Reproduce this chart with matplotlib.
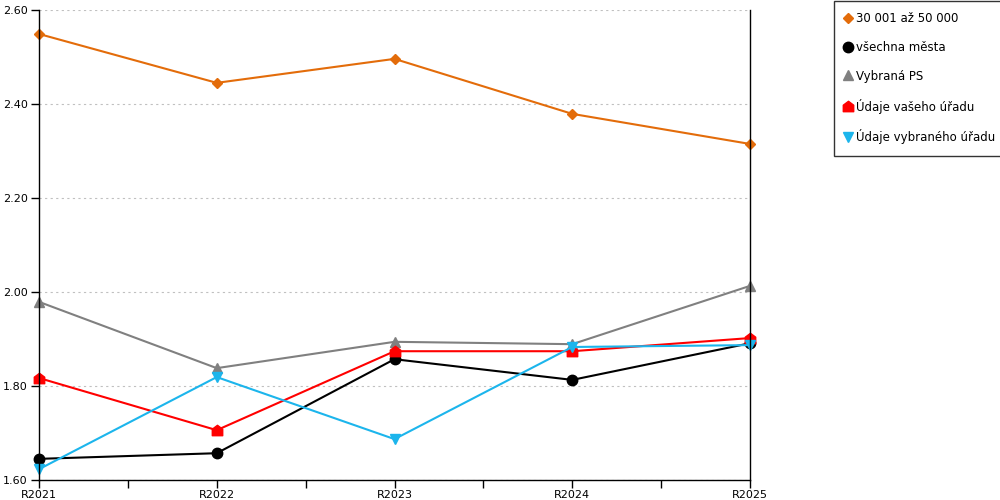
import matplotlib
matplotlib.use("Agg")
import matplotlib.pyplot as plt
from matplotlib.path import Path

# data
years = ["R2021", "R2022", "R2023", "R2024", "R2025"]
obce_30_50 = [2.549, 2.445, 2.496, 2.379, 2.315]
vsechna_mesta = [1.645, 1.657, 1.857, 1.813, 1.891]
vybrana_ps = [1.979, 1.838, 1.894, 1.889, 2.013]
vas_urad = [1.817, 1.706, 1.874, 1.874, 1.902]
vybrany_urad = [1.623, 1.819, 1.687, 1.883, 1.887]

labels = ["30 001 až 50 000", "všechna města", "Vybraná PS",
          "Údaje vašeho úřadu", "Údaje vybraného úřadu"]

# house shaped marker for the red series
house = Path([(-1, -1), (1, -1), (1, 0.25), (0, 1), (-1, 0.25), (-1, -1)],
             [Path.MOVETO, Path.LINETO, Path.LINETO, Path.LINETO,
              Path.LINETO, Path.CLOSEPOLY])

styles = [
    (obce_30_50, "#E36C0A", "D", 5.5),
    (vsechna_mesta, "#000000", "o", 7.5),
    (vybrana_ps, "#808080", "^", 7.5),
    (vas_urad, "#FF0000", house, 7.5),
    (vybrany_urad, "#1CB5EC", "v", 7.5),
]

plt.rcParams['font.family'] = ['DejaVu Sans']
plt.rcParams['font.size'] = 8

fig = plt.figure(figsize=(10, 5), dpi=100)
ax = fig.add_axes([0.039, 0.04, 0.711, 0.94])

x = list(range(len(years)))
for (vals, col, mk, ms), lab in zip(styles, labels):
    ax.plot(x, vals, color=col, marker=mk, markersize=ms, linewidth=1.5,
            label=lab, clip_on=False)

ax.set_xlim(0, len(years) - 1)
ax.set_ylim(1.6, 2.6)
ax.set_xticks(x)
ax.set_xticklabels(years)
ax.set_xticks([i + 0.5 for i in x[:-1]], minor=True)
ax.set_yticks([1.6, 1.8, 2.0, 2.2, 2.4, 2.6])
ax.set_yticklabels(["%.2f" % v for v in [1.6, 1.8, 2.0, 2.2, 2.4, 2.6]])
ax.tick_params(axis='x', which='both', length=6, width=1, pad=1, color='black')
ax.tick_params(axis='y', length=6, width=1, pad=2, color='black')
ax.grid(axis='y', color='#C0C0C0', linestyle=(0, (2, 3)), linewidth=0.8)
ax.set_axisbelow(True)

ax.spines['top'].set_visible(False)
for s in ['left', 'right', 'bottom']:
    ax.spines[s].set_color('black')
    ax.spines[s].set_linewidth(1)

handles, labs = ax.get_legend_handles_labels()
leg = fig.legend(handles, labs, loc='upper left', bbox_to_anchor=(0.834, 0.999),
                 frameon=True, fancybox=False, edgecolor='black',
                 handlelength=0.4, handletextpad=0.5, labelspacing=1.35,
                 borderpad=0.95, borderaxespad=0, fontsize=8.5)
for h in leg.legend_handles:
    h.set_linestyle('None')
leg.get_frame().set_linewidth(1)

fig.savefig("out.png", dpi=100)
